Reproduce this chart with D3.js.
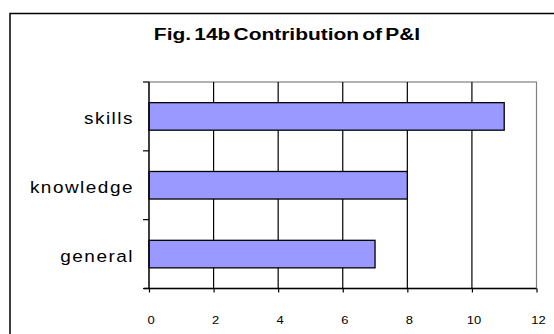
<!DOCTYPE html>
<html><head><meta charset="utf-8">
<script src="https://cdn.jsdelivr.net/npm/d3@7"></script>
<style>body{margin:0;background:#fff}svg{display:block}</style>
</head><body><svg id="c" width="554" height="334"></svg>
<script>
const categories = ["skills", "knowledge", "general"];
const values = [11, 8, 7];
const xTicks = [0, 2, 4, 6, 8, 10, 12];
const title = "Fig. 14b Contribution of P&I";

const FONT = "Liberation Sans, Arial, sans-serif";
const svg = d3.select("#c");
const W = 554, H = 334;
const m = {left: 149, right: W - 536.5, top: 82, bottom: H - 288.5};

svg.append("rect").attr("x", 10).attr("y", 13.5).attr("width", 600).attr("height", 400)
  .attr("fill", "#fff").attr("stroke", "#000").attr("stroke-width", 1.5);

const x = d3.scaleLinear().domain([0, 12]).range([m.left, W - m.right]);
const y = d3.scaleBand().domain(categories).range([m.top, H - m.bottom]).paddingInner(0.6).paddingOuter(0.3);
const yb = d3.scaleBand().domain(categories).range([m.top, H - m.bottom]);

// plot border (gray)
svg.append("rect").attr("x", x(0)).attr("y", m.top).attr("width", x(12) - x(0)).attr("height", H - m.bottom - m.top)
  .attr("fill", "none").attr("stroke", "#808080").attr("stroke-width", 1.2);

// gridlines
svg.append("g").selectAll("line").data(xTicks.filter(d => d > 0 && d < 12)).join("line")
  .attr("x1", d => x(d)).attr("x2", d => x(d)).attr("y1", m.top).attr("y2", H - m.bottom)
  .attr("stroke", "#000").attr("stroke-width", 1.2);

// bars
svg.append("g").selectAll("rect").data(categories).join("rect")
  .attr("x", x(0)).attr("y", d => y(d)).attr("width", (d, i) => x(values[i]) - x(0)).attr("height", y.bandwidth())
  .attr("fill", "#9999FF").attr("stroke", "#000").attr("stroke-width", 1.3);

// x axis
const xa = svg.append("g").attr("transform", `translate(0,${H - m.bottom})`)
  .call(d3.axisBottom(x).tickValues(xTicks).tickSize(4).tickPadding(24));
xa.select(".domain").attr("stroke", "#000").attr("stroke-width", 1.3).attr("d", `M${x(0) - 5},0H${x(12)}`);
xa.selectAll(".tick line").attr("stroke", "#000").attr("stroke-width", 1.2);
xa.selectAll(".tick text")
  .attr("font-family", FONT).attr("font-size", 10).attr("fill", "#000")
  .attr("transform", "translate(1.5,0) scale(1.3,1)");

// y axis
const ya = svg.append("g").attr("transform", `translate(${x(0)},0)`);
ya.append("line").attr("x1", 0).attr("x2", 0).attr("y1", m.top).attr("y2", H - m.bottom).attr("stroke", "#000").attr("stroke-width", 1.3);
const ends = [m.top, ...categories.map(c => yb(c) + yb.bandwidth())];
ya.selectAll("line.t").data(ends).join("line").attr("class", "t")
  .attr("x1", -6).attr("x2", 0).attr("y1", d => d).attr("y2", d => d).attr("stroke", "#000").attr("stroke-width", 1.2);
ya.selectAll("text").data(categories).join("text")
  .attr("transform", d => `translate(-15,${yb(d) + yb.bandwidth() / 2}) scale(1.15,1)`)
  .attr("dy", "0.45em").attr("letter-spacing", 1.3)
  .attr("text-anchor", "end").attr("font-family", FONT).attr("font-size", 16.5)
  .text(d => d);

svg.append("text").attr("transform", "translate(287,40) scale(1.31,1)").attr("text-anchor", "middle")
  .attr("font-family", FONT).attr("font-weight", "bold").attr("font-size", 16)
  .attr("word-spacing", -2).text(title);
</script></body></html>
